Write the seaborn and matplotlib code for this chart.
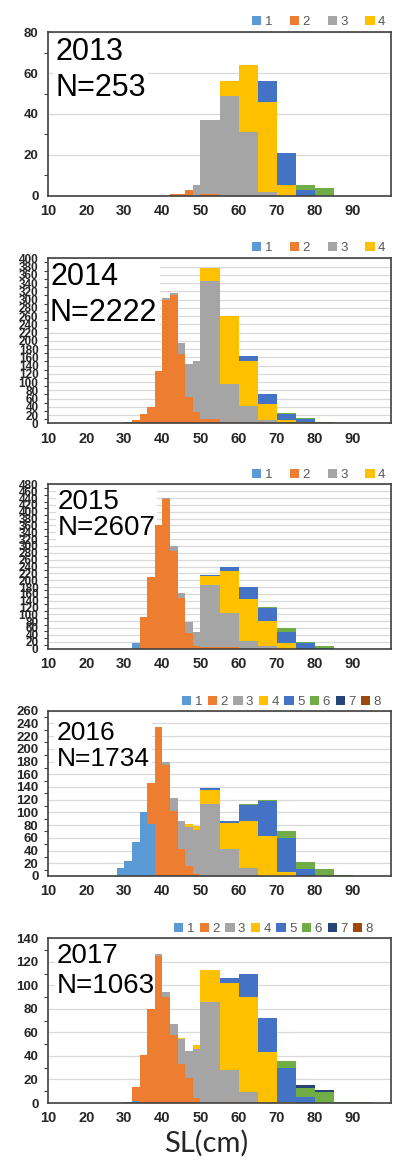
import numpy as np
import pandas as pd
import matplotlib
matplotlib.use("Agg")
import matplotlib.pyplot as plt
import seaborn as sns
from matplotlib.patches import Patch
from matplotlib.ticker import MultipleLocator, FixedLocator

# ---------------- data ----------------
BIN_EDGES = [26, 28, 30, 32, 34, 36, 38, 40, 42, 44, 46, 48,
             50, 55, 60, 65, 70, 75, 80, 85, 90, 95, 100]
AGES = ["1", "2", "3", "4", "5", "6", "7", "8"]
COLORS = ["#5B9BD5", "#ED7D31", "#A5A5A5", "#FFC000",
          "#4472C4", "#70AD47", "#264478", "#9E480E"]
YEARS = ["2013", "2014", "2015", "2016", "2017"]
N_LABELS = ["N=253", "N=2222", "N=2607", "N=1734", "N=1063"]
Y_MAX = [80, 400, 480, 260, 140]
X_TICK_LABELS = ["10", "20", "30", "40", "50", "60", "70", "80", "90"]
LEGEND_COUNT = [4, 4, 4, 8, 8]

# counts per age class, keyed by the lower edge of the SL bin (cm)
Y2013_A2 = {42: 1, 44: 1, 46: 3, 50: 1}
Y2013_A3 = {48: 5, 50: 36, 55: 49, 60: 31, 65: 2}
Y2013_A4 = {55: 7, 60: 33, 65: 44, 70: 5}
Y2013_A5 = {65: 10, 70: 16, 75: 3}
Y2013_A6 = {75: 2, 80: 4}

Y2014_A1 = {30: 2}
Y2014_A2 = {32: 8, 34: 22, 36: 40, 38: 128, 40: 298, 42: 310, 44: 168,
            46: 63, 48: 27, 50: 10, 55: 4}
Y2014_A3 = {40: 6, 42: 6, 44: 26, 46: 81, 48: 124, 50: 334, 55: 91,
            60: 42, 65: 7}
Y2014_A4 = {50: 33, 55: 166, 60: 109, 65: 41, 70: 9, 75: 2}
Y2014_A5 = {60: 13, 65: 22, 70: 14, 75: 8}
Y2014_A6 = {70: 2, 75: 2, 80: 4}

Y2015_A1 = {32: 16}
Y2015_A2 = {34: 92, 36: 209, 38: 360, 40: 437, 42: 286, 44: 149, 46: 46,
            48: 7, 50: 5, 55: 3}
Y2015_A3 = {40: 3, 42: 13, 44: 13, 46: 33, 48: 40, 50: 181, 55: 100,
            60: 21, 65: 8}
Y2015_A4 = {50: 27, 55: 125, 60: 124, 65: 72, 70: 15}
Y2015_A5 = {50: 2, 55: 10, 60: 36, 65: 39, 70: 34, 75: 15, 80: 2}
Y2015_A6 = {65: 2, 70: 11, 75: 4, 80: 4}

Y2016_A1 = {28: 13, 30: 23, 32: 53, 34: 101, 36: 82}
Y2016_A2 = {36: 64, 38: 235, 40: 174, 42: 103, 44: 42, 46: 15, 48: 3}
Y2016_A3 = {40: 5, 42: 19, 44: 44, 46: 62, 48: 70, 50: 113, 55: 42, 60: 13}
Y2016_A4 = {46: 5, 48: 6, 50: 23, 55: 41, 60: 74, 65: 63, 70: 6}
Y2016_A5 = {50: 2, 55: 3, 60: 24, 65: 55, 70: 53, 75: 11}
Y2016_A6 = {60: 2, 65: 1, 70: 12, 75: 11, 80: 11, 85: 2}

Y2017_A1 = {32: 2}
Y2017_A2 = {30: 1, 32: 12, 34: 41, 36: 80, 38: 125, 40: 90, 42: 58,
            44: 33, 46: 21, 48: 4, 55: 1}
Y2017_A3 = {38: 2, 40: 4, 42: 9, 44: 21, 46: 23, 48: 42, 50: 86, 55: 27,
            60: 9}
Y2017_A4 = {44: 1, 48: 3, 50: 27, 55: 74, 60: 81, 65: 43, 70: 1}
Y2017_A5 = {55: 4, 60: 20, 65: 29, 70: 29, 75: 5}
Y2017_A6 = {70: 6, 75: 8, 80: 9, 85: 1, 90: 1}
Y2017_A7 = {75: 2, 80: 2}

YEAR_TABLES = [
    {"2": Y2013_A2, "3": Y2013_A3, "4": Y2013_A4, "5": Y2013_A5, "6": Y2013_A6},
    {"1": Y2014_A1, "2": Y2014_A2, "3": Y2014_A3, "4": Y2014_A4, "5": Y2014_A5,
     "6": Y2014_A6},
    {"1": Y2015_A1, "2": Y2015_A2, "3": Y2015_A3, "4": Y2015_A4, "5": Y2015_A5,
     "6": Y2015_A6},
    {"1": Y2016_A1, "2": Y2016_A2, "3": Y2016_A3, "4": Y2016_A4, "5": Y2016_A5,
     "6": Y2016_A6},
    {"1": Y2017_A1, "2": Y2017_A2, "3": Y2017_A3, "4": Y2017_A4, "5": Y2017_A5,
     "6": Y2017_A6, "7": Y2017_A7},
]

# ---------------- layout (pixels) ----------------
W, H = 395, 1160
AX_LEFT, AX_RIGHT = 48.3, 390.7
AX_TB = [(32.3, 195.7), (258.3, 423.3), (484.5, 648.5), (710.7, 876.0), (938.3, 1103.0)]
TEXT_POS = [(55.5, 37.0), (50.0, 262.0), (57.5, 489.0), (56.5, 721.0), (56.5, 943.0)]
TEXT_SIZE = [22, 22, 20, 19, 20]
TEXT_LS = [1.28, 1.28, 0.98, 1.08, 1.2]
LEG_POS = [(252, 21.7), (252, 248.3), (252, 475.0), (182, 701.7), (174, 929.0)]
LEG_COLSP = [1.35, 1.35, 1.35, 0.43, 0.43]

sns.set_theme(style="white")
plt.rcParams["font.family"] = ["Liberation Sans", "DejaVu Sans"]

palette = dict(zip(AGES, COLORS))
widths = np.diff(BIN_EDGES)

fig = plt.figure(figsize=(W / 100, H / 100), dpi=100)

for i, year in enumerate(YEARS):
    top, bot = AX_TB[i]
    ax = fig.add_axes([AX_LEFT / W, 1 - bot / H, (AX_RIGHT - AX_LEFT) / W, (bot - top) / H])

    rows = []
    for age in AGES:
        table = YEAR_TABLES[i].get(age, {})
        # zero-weight row keeps every age level present
        rows.append({"SL": BIN_EDGES[-2] + 1, "n": 0.0, "age": age})
        for left, cnt in table.items():
            k = BIN_EDGES.index(left)
            rows.append({"SL": left + widths[k] / 2, "n": float(cnt), "age": age})
    df = pd.DataFrame(rows)

    sns.histplot(data=df, x="SL", weights="n", hue="age",
                 hue_order=AGES[::-1], palette=palette, bins=BIN_EDGES,
                 multiple="stack", element="bars", stat="count",
                 shrink=1, linewidth=0, edgecolor="none", alpha=1,
                 legend=False, ax=ax, zorder=2)

    ax.set_xlim(10, 100)
    ax.set_ylim(0, Y_MAX[i])
    ax.set_xlabel("")
    ax.set_ylabel("")

    # x ticks every 5, labels every 10 up to 90
    xt = list(range(10, 101, 5))
    ax.xaxis.set_major_locator(FixedLocator(xt))
    labs = []
    for v in xt:
        s = str(v)
        labs.append(s if s in X_TICK_LABELS else "")
    ax.set_xticklabels(labs)

    ax.yaxis.set_major_locator(MultipleLocator(20))
    ax.yaxis.set_minor_locator(MultipleLocator(10))
    ax.set_axisbelow(True)
    ax.yaxis.grid(True, which="major", color="#D9D9D9", linewidth=0.9)
    ax.xaxis.grid(False)

    ysz = 8.5 if Y_MAX[i] > 300 else 9.5
    ax.tick_params(axis="x", which="major", direction="out", length=4, width=0.9,
                   color="#404040", labelsize=10.5, labelcolor="#262626", pad=2)
    ax.tick_params(axis="y", which="major", direction="out", length=4, width=0.9,
                   color="#404040", labelsize=ysz, labelcolor="#262626", pad=3)
    ax.tick_params(axis="y", which="minor", direction="out", length=3, width=0.8,
                   color="#404040", left=True)
    for lab in ax.get_xticklabels() + ax.get_yticklabels():
        lab.set_fontweight("bold")

    for sp in ax.spines.values():
        sp.set_visible(True)
        sp.set_color("#404040")
        sp.set_linewidth(1.2)

    # year / N box (drawn under the bars)
    tx, ty = TEXT_POS[i]
    ax.text((tx - AX_LEFT) / (AX_RIGHT - AX_LEFT), 1 - (ty - top) / (bot - top),
            f"{year}\n{N_LABELS[i]}", transform=ax.transAxes,
            ha="left", va="top", fontsize=TEXT_SIZE[i], color="black",
            linespacing=TEXT_LS[i], zorder=1,
            bbox=dict(facecolor="white", edgecolor="none", pad=1.5))

    # legend
    nleg = LEGEND_COUNT[i]
    handles = [Patch(facecolor=palette[a], edgecolor="none") for a in AGES[:nleg]]
    lx, ly = LEG_POS[i]
    fig.legend(handles, AGES[:nleg], loc="center left",
               bbox_to_anchor=(lx / W, 1 - ly / H), bbox_transform=fig.transFigure,
               ncol=nleg, frameon=False, fontsize=9.5, labelcolor="#595959",
               handlelength=0.7, handleheight=0.7, handletextpad=0.25,
               columnspacing=LEG_COLSP[i], borderpad=0, borderaxespad=0)

fig.text(206 / W, 1 - 1143 / H, "SL(cm)", ha="center", va="center",
         fontsize=21, family=["Lato", "DejaVu Sans"], color="#262626")

fig.savefig("out.png", dpi=100)
